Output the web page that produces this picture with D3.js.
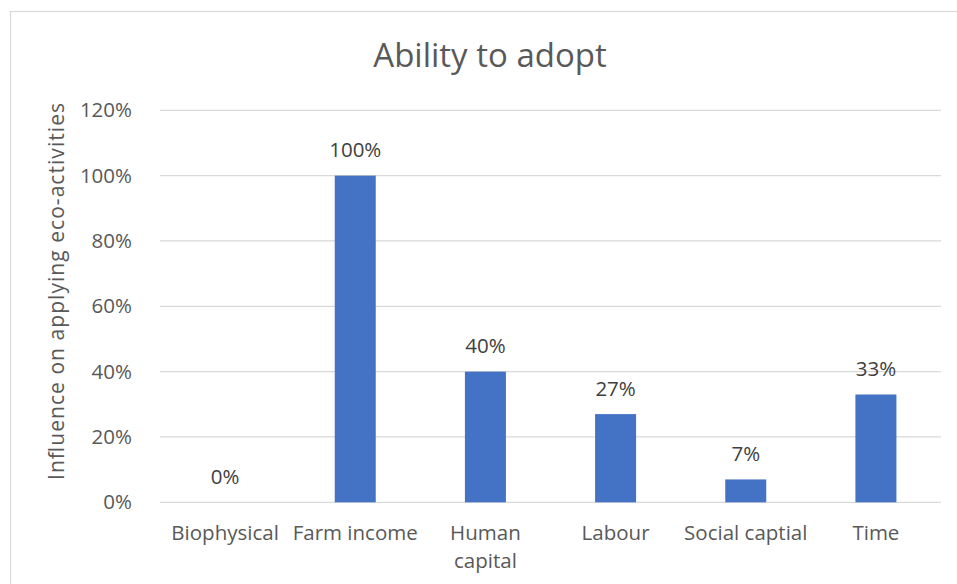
<!DOCTYPE html>
<html>
<head>
<meta charset="utf-8">
<script src="https://cdn.jsdelivr.net/npm/d3@7/dist/d3.min.js"></script>
<style>
  html, body { margin: 0; padding: 0; background: #fff; }
  svg { display: block; font-family: "Open Sans", "Noto Sans", sans-serif; }
</style>
</head>
<body>
<svg id="chart" width="957" height="584"></svg>
<script>
// Chart data
const categories = ["Biophysical", "Farm income", "Human capital", "Labour", "Social captial", "Time"];
const categoryLines = [["Biophysical"], ["Farm income"], ["Human", "capital"], ["Labour"], ["Social captial"], ["Time"]];
const values = [0, 1.00, 0.40, 0.27, 0.07, 0.33];
const yTicks = [0, 0.2, 0.4, 0.6, 0.8, 1.0, 1.2];
const title = "Ability to adopt";
const yTitle = "Influence on applying eco-activities";

const svg = d3.select("#chart");
const W = 957, H = 584;
const margin = { left: 160, right: W - 941, top: 110.3, bottom: H - 502.3 };

const textGrey = "#595959";
const labelGrey = "#404040";
const gridGrey = "#d9d9d9";
const barBlue = "#4472c4";
const fs = 20.5;

// Chart area frame
svg.append("rect")
  .attr("x", 10.5).attr("y", 11.5)
  .attr("width", 980).attr("height", 620)
  .attr("fill", "#fff")
  .attr("stroke", gridGrey).attr("stroke-width", 1.2);

const x = d3.scaleBand()
  .domain(categories)
  .range([margin.left, W - margin.right])
  .paddingInner(0.685)
  .paddingOuter(0.3425);

const y = d3.scaleLinear()
  .domain([0, 1.2])
  .range([H - margin.bottom, margin.top]);

// Horizontal gridlines
svg.append("g")
  .selectAll("line")
  .data(yTicks)
  .join("line")
  .attr("x1", margin.left).attr("x2", W - margin.right)
  .attr("y1", d => y(d)).attr("y2", d => y(d))
  .attr("stroke", gridGrey).attr("stroke-width", 1.3);

// Y axis tick labels
const yAxis = d3.axisLeft(y)
  .tickValues(yTicks)
  .tickFormat(d3.format(".0%"))
  .tickSize(0)
  .tickPadding(28);
const yg = svg.append("g")
  .attr("transform", `translate(${margin.left},0)`)
  .call(yAxis);
yg.select(".domain").remove();
yg.selectAll("text")
  .attr("fill", textGrey)
  .attr("font-size", fs)
  .attr("font-family", "Open Sans, sans-serif");

// Bars
svg.append("g")
  .selectAll("rect")
  .data(values)
  .join("rect")
  .attr("x", (d, i) => x(categories[i]))
  .attr("width", x.bandwidth())
  .attr("y", d => y(d))
  .attr("height", d => y(0) - y(d))
  .attr("fill", barBlue);

// Value labels
svg.append("g")
  .selectAll("text")
  .data(values)
  .join("text")
  .attr("x", (d, i) => x(categories[i]) + x.bandwidth() / 2)
  .attr("y", d => y(d) - 18.5)
  .attr("text-anchor", "middle")
  .attr("fill", labelGrey)
  .attr("font-size", fs)
  .text(d => d3.format(".0%")(d));

// Category labels
const xg = svg.append("g");
categories.forEach((c, i) => {
  const t = xg.append("text")
    .attr("x", x(c) + x.bandwidth() / 2)
    .attr("y", 540)
    .attr("text-anchor", "middle")
    .attr("fill", textGrey)
    .attr("font-size", fs);
  categoryLines[i].forEach((line, j) => {
    t.append("tspan")
      .attr("x", x(c) + x.bandwidth() / 2)
      .attr("dy", j === 0 ? 0 : 28)
      .text(line);
  });
});

// Title
svg.append("text")
  .attr("x", 490)
  .attr("y", 66.5)
  .attr("text-anchor", "middle")
  .attr("fill", textGrey)
  .attr("font-size", 33)
  .text(title);

// Y axis title
svg.append("text")
  .attr("transform", `translate(64,291.5) rotate(-90)`)
  .attr("text-anchor", "middle")
  .attr("fill", textGrey)
  .attr("font-size", 21)
  .attr("textLength", 377)
  .attr("lengthAdjust", "spacing")
  .text(yTitle);
</script>
</body>
</html>
